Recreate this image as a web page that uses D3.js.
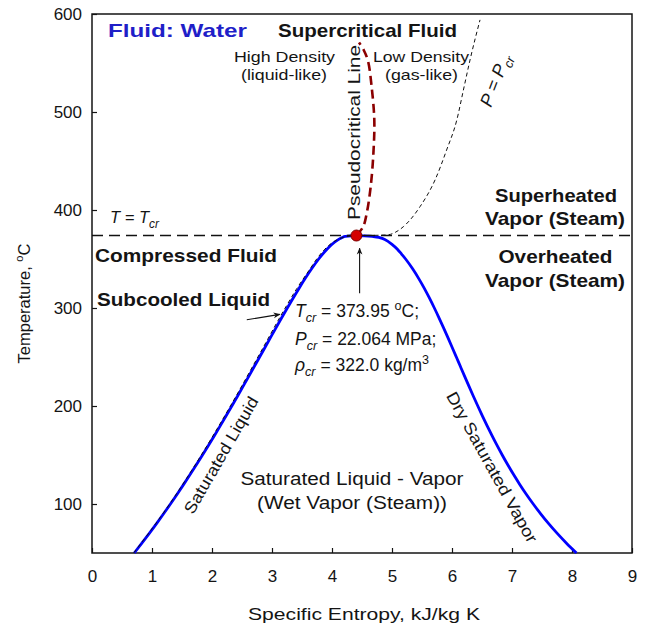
<!DOCTYPE html>
<html>
<head>
<meta charset="utf-8">
<script src="https://cdn.jsdelivr.net/npm/d3@7"></script>
<style>
  html, body { margin: 0; padding: 0; background: #fff; }
  svg { display: block; font-family: "Liberation Sans", Arial, sans-serif; }
</style>
</head>
<body>
<svg id="chart" width="669" height="626"></svg>
<script>
// Saturation dome of water: temperature (°C) with liquid / vapour specific entropy (kJ/kg K)
const satTemps = [50, 60, 70, 80, 90, 100, 110, 120, 130, 140, 150, 160, 170, 180, 190, 200, 210, 220, 230, 240,
                  250, 260, 270, 280, 290, 300, 310, 320, 330, 340, 350, 355, 360, 365, 370, 372, 373];
const sLiquid = [0.7038, 0.8313, 0.9551, 1.0756, 1.1929, 1.3072, 1.4188, 1.5279, 1.6346, 1.7392, 1.8418, 1.9426,
                 2.0417, 2.1392, 2.2355, 2.3305, 2.4245, 2.5177, 2.6101, 2.7020, 2.7935, 2.8849, 2.9765, 3.0685,
                 3.1612, 3.2552, 3.3510, 3.4494, 3.5518, 3.6601, 3.7784, 3.8439, 3.9167, 4.0014, 4.1112, 4.1720,
                 4.2210];
const sVapor = [8.0748, 7.9081, 7.7540, 7.6111, 7.4781, 7.3541, 7.2381, 7.1291, 7.0264, 6.9293, 6.8371, 6.7491,
                6.6650, 6.5841, 6.5059, 6.4302, 6.3563, 6.2840, 6.2128, 6.1423, 6.0721, 6.0016, 5.9304, 5.8578,
                5.7832, 5.7059, 5.6249, 5.5389, 5.4461, 5.3436, 5.2266, 5.1593, 5.0900, 5.0000, 4.8800, 4.7800,
                4.6700];

// Critical point
const critical = { s: 4.407, T: 373.95, P: 22.064, rho: 322.0 };

// Pseudocritical line (above the critical point)
const pseudoS = [4.407, 4.52, 4.58, 4.645, 4.69, 4.705, 4.66, 4.60, 4.53, 4.45];
const pseudoT = [373.95, 383, 397, 424, 458, 492, 526, 552, 563, 571];

// Critical isobar P = Pcr
const isoS = [0.695, 1.294, 1.822, 2.307, 2.765, 3.220, 3.415, 3.635, 3.745, 3.88, 3.99, 4.10, 4.25, 4.407,
              4.65, 4.91, 5.19, 5.467, 5.717, 5.91, 6.08, 6.19, 6.30, 6.467];
const isoT = [50, 100, 150, 200, 250, 300, 320, 340, 350, 360, 366, 370, 373, 373.95,
              374.1, 374.5, 383, 403.4, 430.6, 461.2, 491.8, 522.4, 553, 594];

// Axis ticks
const xTicks = [0, 1, 2, 3, 4, 5, 6, 7, 8, 9];
const yTicks = [100, 200, 300, 400, 500, 600];

const svg = d3.select("#chart");
const ink = "#141414";

const x = d3.scaleLinear().domain([0, 9]).range([92, 632]);
const y = d3.scaleLinear().domain([50, 600]).range([553, 14]);

// Axes with inward ticks
const gx = svg.append("g").attr("transform", `translate(0,${y(50)})`)
  .call(d3.axisBottom(x).tickValues(xTicks).tickFormat(d3.format("d"))
    .tickSizeInner(-5).tickSizeOuter(0).tickPadding(17));
const gy = svg.append("g").attr("transform", `translate(${x(0)},0)`)
  .call(d3.axisLeft(y).tickValues(yTicks).tickFormat(d3.format("d"))
    .tickSizeInner(-5).tickSizeOuter(0).tickPadding(10));
[gx, gy].forEach(g => {
  g.select(".domain").remove();
  g.selectAll(".tick line").attr("stroke", ink).attr("stroke-width", 1.2);
  g.selectAll(".tick text").attr("fill", ink).attr("font-size", 17)
    .attr("font-family", "'Liberation Sans', Arial, sans-serif");
});

// Frame
svg.append("rect")
  .attr("x", x(0)).attr("y", y(600))
  .attr("width", x(9) - x(0)).attr("height", y(50) - y(600))
  .attr("fill", "none").attr("stroke", ink).attr("stroke-width", 1.5);

// Axis titles
const yTitle = svg.append("text")
  .attr("transform", `translate(30,${(y(50) + y(600)) / 2 + 20}) rotate(-90)`)
  .attr("text-anchor", "middle").attr("font-size", 16.5).attr("fill", ink);
yTitle.append("tspan").text("Temperature, ");
yTitle.append("tspan").attr("dy", -7).attr("font-size", 11).text("o");
yTitle.append("tspan").attr("dy", 7).text("C");

svg.append("text")
  .attr("x", (x(0) + x(9)) / 2 + 2).attr("y", 620)
  .attr("text-anchor", "middle").attr("font-size", 16.5).attr("fill", ink)
  .attr("textLength", 232).attr("lengthAdjust", "spacingAndGlyphs")
  .text("Specific Entropy, kJ/kg K");

// Saturation dome
const domePts = satTemps.map((t, i) => [sLiquid[i], t])
  .concat([[critical.s, critical.T]])
  .concat(satTemps.map((t, i) => [sVapor[i], t]).reverse());
const line = d3.line().x(d => x(d[0])).y(d => y(d[1]));

svg.append("path")
  .attr("d", line.curve(d3.curveMonotoneX)(domePts))
  .attr("fill", "none").attr("stroke", "#0000ff").attr("stroke-width", 2.8);

// Critical isobar
svg.append("path")
  .attr("d", line.curve(d3.curveMonotoneX)(isoS.map((s, i) => [s, isoT[i]])))
  .attr("fill", "none").attr("stroke", "#111").attr("stroke-width", 1)
  .attr("stroke-dasharray", "4,3");

// T = Tcr line
svg.append("line")
  .attr("x1", x(0)).attr("x2", x(9))
  .attr("y1", y(critical.T)).attr("y2", y(critical.T))
  .attr("stroke", "#111").attr("stroke-width", 1.4).attr("stroke-dasharray", "11,6");

// Pseudocritical line
svg.append("path")
  .attr("d", line.curve(d3.curveCatmullRom)(pseudoS.map((s, i) => [s, pseudoT[i]])))
  .attr("fill", "none").attr("stroke", "#8b0000").attr("stroke-width", 2.6)
  .attr("stroke-dasharray", "9,5");

// Critical point marker
svg.append("circle")
  .attr("cx", x(critical.s)).attr("cy", y(critical.T)).attr("r", 5.5)
  .attr("fill", "#d40000").attr("stroke", "#7a0000").attr("stroke-width", 1);

// Arrows
const defs = svg.append("defs");
defs.append("marker").attr("id", "head")
  .attr("viewBox", "0 0 10 10").attr("refX", 9).attr("refY", 5)
  .attr("markerWidth", 7).attr("markerHeight", 7).attr("orient", "auto")
  .attr("markerUnits", "userSpaceOnUse")
  .append("path").attr("d", "M0,1 L10,5 L0,9 L3,5 Z").attr("fill", "#111");

svg.append("line")
  .attr("x1", x(4.46)).attr("y1", y(315)).attr("x2", x(4.46)).attr("y2", y(361))
  .attr("stroke", "#111").attr("stroke-width", 1.1).attr("marker-end", "url(#head)");
svg.append("line")
  .attr("x1", x(2.58)).attr("y1", y(288)).attr("x2", x(3.13)).attr("y2", y(293.5))
  .attr("stroke", "#111").attr("stroke-width", 1.1).attr("marker-end", "url(#head)");

// Text helpers
function label(opts) {
  const t = svg.append("text")
    .attr("x", opts.x).attr("y", opts.y)
    .attr("font-size", opts.size || 16)
    .attr("font-weight", opts.bold ? "bold" : null)
    .attr("font-style", opts.italic ? "italic" : null)
    .attr("text-anchor", opts.anchor || "start")
    .attr("fill", opts.fill || ink);
  if (opts.rotate) t.attr("transform", `rotate(${opts.rotate},${opts.x},${opts.y})`);
  if (opts.len) t.attr("textLength", opts.len).attr("lengthAdjust", "spacingAndGlyphs");
  if (opts.text) t.text(opts.text);
  return t;
}
function rich(t, parts) {
  let shift = 0;
  parts.forEach(p => {
    const target = p.sub ? 5 : p.sup ? -7 : 0;
    const ts = t.append("tspan").attr("dy", target - shift).text(p.t);
    shift = target;
    if (p.sub || p.sup) ts.attr("font-size", "0.72em");
    if (p.italic) ts.attr("font-style", "italic");
  });
}

label({ x: 108, y: 37, size: 19, bold: true, fill: "#1f1fc8", len: 139, text: "Fluid: Water" });
label({ x: 278, y: 37, size: 19, bold: true, len: 179, text: "Supercritical Fluid" });
label({ x: 234, y: 61.5, size: 14.5, len: 101, text: "High Density" });
label({ x: 241, y: 79.5, size: 14.5, len: 86, text: "(liquid-like)" });
label({ x: 373, y: 61.5, size: 14.5, len: 96, text: "Low Density" });
label({ x: 385, y: 79.5, size: 14.5, len: 73, text: "(gas-like)" });
label({ x: 360, y: 132.5, size: 17, anchor: "middle", rotate: -90, len: 175, text: "Pseudocritical Line" });

const pLab = label({ x: 491, y: 108, size: 18, italic: true, rotate: -69 });
rich(pLab, [{ t: "P = P", italic: true }, { t: "cr", italic: true, sub: true }]);

const tLab = label({ x: 110, y: 223, size: 16.5, italic: true });
rich(tLab, [{ t: "T = T", italic: true }, { t: "cr", italic: true, sub: true }]);

label({ x: 556, y: 201.5, size: 19, bold: true, anchor: "middle", len: 122, text: "Superheated" });
label({ x: 555, y: 225, size: 19, bold: true, anchor: "middle", len: 140, text: "Vapor (Steam)" });
label({ x: 555.5, y: 262.5, size: 19, bold: true, anchor: "middle", len: 114, text: "Overheated" });
label({ x: 555, y: 286.5, size: 19, bold: true, anchor: "middle", len: 140, text: "Vapor (Steam)" });
label({ x: 95, y: 261.5, size: 19, bold: true, len: 182, text: "Compressed Fluid" });
label({ x: 97, y: 306, size: 19, bold: true, len: 173, text: "Subcooled Liquid" });

// Critical properties
const c1 = label({ x: 295, y: 317, size: 17.5 });
rich(c1, [{ t: "T", italic: true }, { t: "cr", italic: true, sub: true },
          { t: ` = ${critical.T.toFixed(2)} ` }, { t: "o", sup: true }, { t: "C;" }]);
const c2 = label({ x: 295, y: 344.5, size: 17.5 });
rich(c2, [{ t: "P", italic: true }, { t: "cr", italic: true, sub: true },
          { t: ` = ${critical.P.toFixed(3)} MPa;` }]);
const c3 = label({ x: 295, y: 370.5, size: 17.5 });
rich(c3, [{ t: "ρ", italic: true }, { t: "cr", italic: true, sub: true },
          { t: ` = ${critical.rho.toFixed(1)} kg/m` }, { t: "3", sup: true }]);

// Region labels inside the dome
label({ x: 352, y: 485, size: 17.5, anchor: "middle", len: 223, text: "Saturated Liquid - Vapor" });
label({ x: 352, y: 509, size: 17.5, anchor: "middle", len: 190, text: "(Wet Vapor (Steam))" });

label({ x: 226, y: 458, size: 16.5, anchor: "middle", rotate: -60, len: 132, text: "Saturated Liquid" });
label({ x: 487, y: 470, size: 16.5, anchor: "middle", rotate: 61, len: 170, text: "Dry Saturated Vapor" });
</script>
</body>
</html>
